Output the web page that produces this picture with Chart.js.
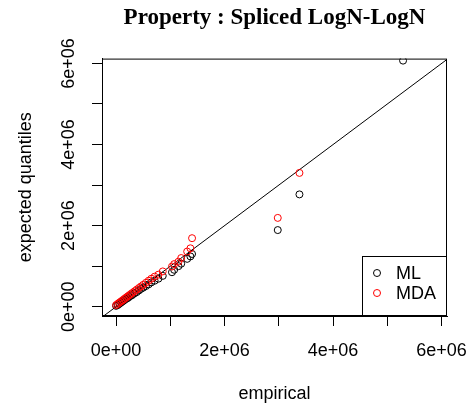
<!DOCTYPE html>
<html>
<head>
<meta charset="utf-8">
<script src="https://cdn.jsdelivr.net/npm/chart.js@4"></script>
<style>
  html, body { margin: 0; padding: 0; background: #fff; }
  #wrap { width: 467px; height: 405px; }
</style>
</head>
<body>
<div id="wrap"><canvas id="qqChart" width="467" height="405"></canvas></div>
<script>
// Q-Q plot data (values in units of 1)
const empirical = [
  0.00e6, 0.03e6, 0.06e6, 0.09e6, 0.12e6, 0.15e6, 0.18e6, 0.21e6, 0.24e6, 0.27e6,
  0.30e6, 0.34e6, 0.38e6, 0.42e6, 0.46e6, 0.50e6, 0.55e6, 0.60e6, 0.65e6, 0.71e6,
  0.78e6, 0.86e6, 1.03e6, 1.07e6, 1.15e6, 1.20e6, 1.31e6, 1.37e6, 1.40e6,
  2.98e6, 3.38e6, 5.29e6
];
const mlQuantiles = [
  0.02e6, 0.04e6, 0.07e6, 0.10e6, 0.13e6, 0.16e6, 0.19e6, 0.21e6, 0.24e6, 0.27e6,
  0.29e6, 0.33e6, 0.36e6, 0.40e6, 0.44e6, 0.47e6, 0.51e6, 0.55e6, 0.60e6, 0.64e6,
  0.69e6, 0.76e6, 0.85e6, 0.91e6, 1.00e6, 1.06e6, 1.18e6, 1.24e6, 1.30e6,
  1.89e6, 2.77e6, 6.07e6
];
const mdaQuantiles = [
  0.04e6, 0.07e6, 0.10e6, 0.13e6, 0.16e6, 0.19e6, 0.22e6, 0.25e6, 0.28e6, 0.31e6,
  0.34e6, 0.38e6, 0.42e6, 0.46e6, 0.50e6, 0.54e6, 0.59e6, 0.64e6, 0.69e6, 0.74e6,
  0.79e6, 0.87e6, 0.99e6, 1.05e6, 1.11e6, 1.20e6, 1.36e6, 1.44e6, 1.69e6,
  2.19e6, 3.30e6, null
];
const seriesNames = ["ML", "MDA"];
const seriesColors = ["#000000", "#FF0000"];

// axis ticks: every 1e6, labelled every 2e6
const tickValues = [0, 1e6, 2e6, 3e6, 4e6, 5e6, 6e6];
const tickLabels = ["0e+00", "", "2e+06", "", "4e+06", "", "6e+06"];
const diagonal = [-1e6, 8e6];

const toPoints = (ys) => empirical.map((x, i) => ({ x: x, y: ys[i] }));

// box around plot + legend in the lower right corner (R style)
const boxAndLegend = {
  id: "boxAndLegend",
  afterDatasetsDraw(chart) {
    const { ctx, chartArea: a } = chart;
    ctx.save();
    ctx.strokeStyle = "#000";
    ctx.lineWidth = 1;
    ctx.strokeRect(a.left + 0.5, a.top + 0.5, a.right - a.left - 1, a.bottom - a.top - 1);

    const w = 85, h = 60;
    const lx = a.right - w, ly = a.bottom - h;
    ctx.fillStyle = "#fff";
    ctx.fillRect(lx, ly, w, h);
    ctx.strokeRect(lx + 0.5, ly + 0.5, w - 1, h - 1);

    ctx.font = "18px 'Liberation Sans', Arial, sans-serif";
    ctx.textBaseline = "middle";
    ctx.textAlign = "left";
    seriesNames.forEach((name, i) => {
      const cy = ly + 17 + i * 20;
      ctx.beginPath();
      ctx.strokeStyle = seriesColors[i];
      ctx.arc(lx + 15, cy, 3.5, 0, Math.PI * 2);
      ctx.stroke();
      ctx.fillStyle = "#000";
      ctx.fillText(name, lx + 34, cy + 1);
    });
    ctx.restore();
  }
};

const axisTicks = (scale) => {
  scale.ticks = tickValues.map(v => ({ value: v }));
};
const tickCallback = (value) => {
  const i = tickValues.indexOf(value);
  return i >= 0 ? tickLabels[i] : "";
};
const noLabelPadding = (s) => {
  s.paddingLeft = 0; s.paddingRight = 0; s.paddingTop = 0; s.paddingBottom = 0;
};

new Chart(document.getElementById("qqChart").getContext("2d"), {
  type: "scatter",
  data: {
    datasets: [
      {
        label: seriesNames[1],
        data: toPoints(mdaQuantiles),
        borderColor: seriesColors[1],
        backgroundColor: "rgba(0,0,0,0)",
        borderWidth: 1,
        pointRadius: 3.5,
        order: 0
      },
      {
        label: seriesNames[0],
        data: toPoints(mlQuantiles),
        borderColor: seriesColors[0],
        backgroundColor: "rgba(0,0,0,0)",
        borderWidth: 1,
        pointRadius: 3.5,
        order: 1
      },
      {
        type: "line",
        label: "y = x",
        data: diagonal.map(v => ({ x: v, y: v })),
        borderColor: "#000",
        borderWidth: 1,
        pointRadius: 0,
        fill: false,
        order: 2
      }
    ]
  },
  options: {
    responsive: false,
    animation: false,
    events: [],
    layout: { padding: { left: 0, right: 20, top: 0, bottom: 0 } },
    scales: {
      x: {
        type: "linear",
        min: -0.26e6,
        max: 6.1e6,
        afterBuildTicks: axisTicks,
        afterFit: (s) => { s.height = 89; noLabelPadding(s); },
        grid: { drawOnChartArea: false, drawTicks: true, tickLength: 10, tickColor: "#000" },
        border: { display: true, color: "#000" },
        ticks: {
          autoSkip: false,
          maxRotation: 0,
          padding: 14,
          color: "#000",
          font: { family: "'Liberation Sans', Arial, sans-serif", size: 18 },
          callback: tickCallback
        },
        title: {
          display: true,
          text: "empirical",
          color: "#000",
          padding: { top: 0, bottom: 0 },
          font: { family: "'Liberation Sans', Arial, sans-serif", size: 18 }
        }
      },
      y: {
        type: "linear",
        min: -0.23e6,
        max: 6.12e6,
        afterBuildTicks: axisTicks,
        afterFit: (s) => { s.width = 102; noLabelPadding(s); },
        grid: { drawOnChartArea: false, drawTicks: true, tickLength: 10, tickColor: "#000" },
        border: { display: true, color: "#000" },
        ticks: {
          autoSkip: false,
          minRotation: 90,
          maxRotation: 90,
          crossAlign: "center",
          padding: -2,
          color: "#000",
          font: { family: "'Liberation Sans', Arial, sans-serif", size: 18 },
          callback: tickCallback
        },
        title: {
          display: true,
          text: "expected quantiles",
          color: "#000",
          padding: { top: 15, bottom: 0 },
          font: { family: "'Liberation Sans', Arial, sans-serif", size: 18 }
        }
      }
    },
    plugins: {
      legend: { display: false },
      tooltip: { enabled: false },
      title: {
        display: true,
        fullSize: false,
        text: "Property : Spliced LogN-LogN",
        color: "#000",
        padding: { top: 4, bottom: 27 },
        font: { family: "'Liberation Serif', 'Times New Roman', serif", size: 23, weight: "bold" }
      }
    }
  },
  plugins: [boxAndLegend]
});
</script>
</body>
</html>
